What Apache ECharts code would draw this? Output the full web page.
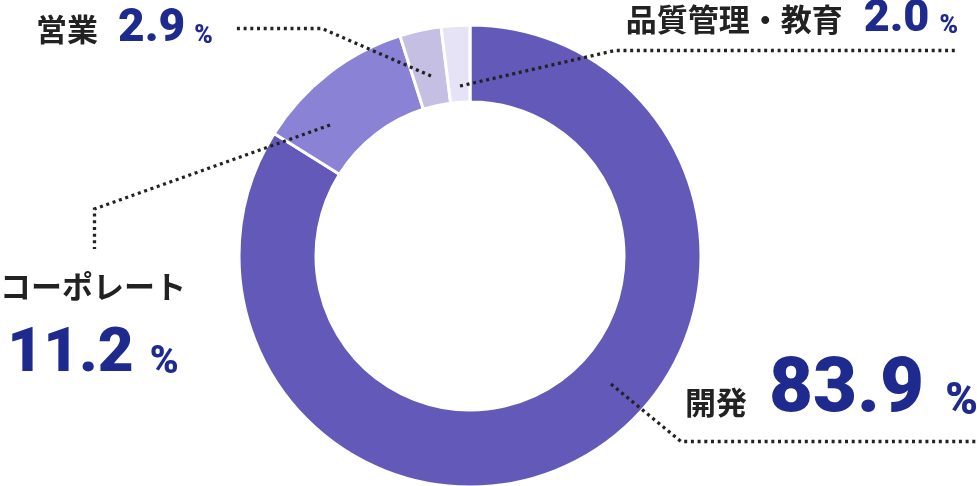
<!DOCTYPE html>
<html><head><meta charset="utf-8">
<script src="https://cdn.jsdelivr.net/npm/echarts@6/dist/echarts.min.js"></script>
<style>html,body{margin:0;padding:0;background:#fff}#c{width:977px;height:486px}</style>
</head><body><div id="c"></div>
<script>
const categories = ['開発', 'コーポレート', '営業', '品質管理・教育'];
const values = [83.9, 11.2, 2.9, 2.0];
const colors = ['#6259b8', '#8a82d4', '#c5c0e3', '#e6e3f6'];

const CJK = '"Noto Sans CJK JP", sans-serif';
const NUM = 'Roboto, "Noto Sans", sans-serif';
const D = 20;
function tok(fs, k, family, color, extra, padLeft, weight) {
  const pb = Math.max(0, D + (extra || 0) - (0.5 - k) * fs);
  return { fontSize: fs, fontFamily: family, fontWeight: weight || 700, color: color,
           verticalAlign: 'bottom', lineHeight: 80, padding: [0, 0, pb, padLeft || 0] };
}
const KR = 0.342, KC = 0.436, TXT = '#222222', NAVY = '#1f2a8f';

const rich = {
  n: tok(31, KC, CJK, TXT, 2, 0),
  v0: tok(76, KR, NUM, NAVY, 0, 22, 900), p0: tok(44, KR, NUM, NAVY, 0, 21, 900),
  nc: Object.assign(tok(31, KC, CJK, TXT, 2, 0), {lineHeight: 40}),
  v1: Object.assign(tok(62, KR, NUM, NAVY, 0, 0, 900), {lineHeight: 75}),
  p1: Object.assign(tok(39, KR, NUM, NAVY, 0, 16, 900), {lineHeight: 75}),
  v2: tok(46, KR, NUM, NAVY, 0, 20, 900), p2: tok(25, KR, NUM, NAVY, 0, 9, 900),
  v3: tok(45, KR, NUM, NAVY, 0, 21, 900), p3: tok(25, KR, NUM, NAVY, 0, 10, 900)
};

const labelPos = [
  { x: 685, y: 438, align: 'left', pts: [[611, 384], [681, 441.5], [977, 441.5]] },
  { x: 93, y: 397, align: 'center', pts: [[330, 125], [94.5, 209], [94.5, 249]] },
  { x: 36, y: 65, align: 'left', pts: [[431, 76], [322, 28.5], [236, 28.5]] },
  { x: 958, y: 55, align: 'right', pts: [[460, 86], [615, 50.5], [957, 50.5]] }
];

const common = {
  type: 'pie',
  center: [470, 256],
  radius: [154, 231],
  startAngle: 90,
  clockwise: true,
  avoidLabelOverlap: false,
  silent: true,
  emphasis: { disabled: true }
};

const chart = echarts.init(document.getElementById('c'), null, { renderer: 'canvas' });
chart.setOption({
  animation: false,
  backgroundColor: '#ffffff',
  series: [
    Object.assign({}, common, {
      z: 2,
      itemStyle: { borderColor: '#ffffff', borderWidth: 3 },
      data: categories.map((c, i) => ({ name: c, value: values[i], itemStyle: { color: colors[i] } })),
      label: { show: false },
      labelLine: { show: false }
    }),
    Object.assign({}, common, {
      z: 5,
      itemStyle: { color: 'rgba(0,0,0,0)', borderWidth: 0 },
      data: categories.map((c, i) => ({ name: c, value: values[i] })),
      label: {
        show: true,
        position: 'outside',
        formatter: function (p) {
          const i = p.dataIndex, v = values[i].toFixed(1);
          if (i === 1) return '{nc|' + categories[i] + '}\n{v1|' + v + '}{p1|%}';
          return '{n|' + categories[i] + '}{v' + i + '|' + v + '}{p' + i + '|%}';
        },
        rich: rich
      },
      labelLine: {
        show: true,
        showAbove: true,
        lineStyle: { color: '#222222', width: 3.3, opacity: 1, type: [3, 3.7], cap: 'butt' }
      },
      labelLayout: function (params) {
        const L = labelPos[params.dataIndex];
        return { x: L.x, y: L.y, align: L.align, verticalAlign: 'bottom', labelLinePoints: L.pts };
      }
    })
  ]
});
</script>
</body></html>
